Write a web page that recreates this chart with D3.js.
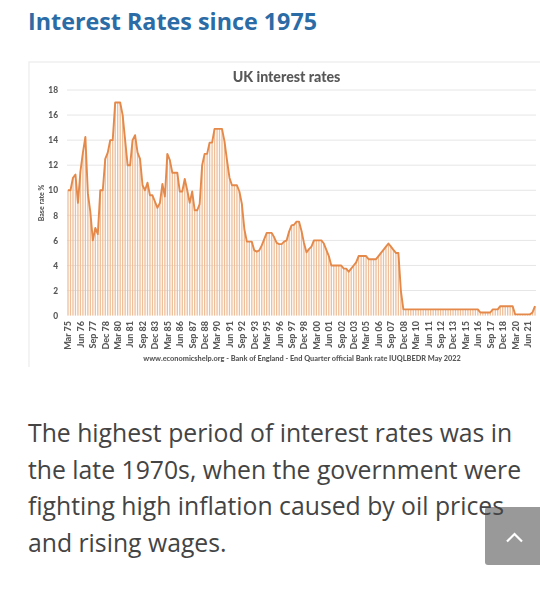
<!DOCTYPE html>
<html><head><meta charset="utf-8">
<script src="https://cdn.jsdelivr.net/npm/d3@7"></script>
<style>html,body{margin:0;padding:0;background:#fff}svg{display:block}</style>
</head><body><svg id="c" width="540" height="600"></svg>
<script>
const rates=[10,10,11,11.25,9,11.5,13,14.25,9.75,8.25,6,7,6.5,10,10,12.5,13,14,14,17,17,17,16,14,12,12,14,14.4,13,12.5,10.4,10,10.6,9.6,9.6,9.1,8.6,9,10.5,9.5,12.9,12.4,11.4,11.4,11.4,9.9,9.9,10.9,10,9,9.9,8.4,8.4,8.9,12,12.9,12.9,13.8,13.8,14.9,14.9,14.9,14.9,13.9,12.4,11,10.4,10.4,10.4,9.9,8.9,6.9,5.9,5.9,5.9,5.2,5.1,5.2,5.6,6.1,6.6,6.6,6.6,6.25,5.8,5.7,5.7,5.9,6,6.7,7.2,7.25,7.5,7.5,6.75,5.8,5.05,5.3,5.5,6,6,6,6,5.75,5.25,4.75,4,4,4,4,4,3.75,3.75,3.5,3.75,4,4.25,4.75,4.75,4.75,4.75,4.5,4.5,4.5,4.5,4.75,5,5.25,5.5,5.75,5.5,5.25,5,5,2,0.5,0.5,0.5,0.5,0.5,0.5,0.5,0.5,0.5,0.5,0.5,0.5,0.5,0.5,0.5,0.5,0.5,0.5,0.5,0.5,0.5,0.5,0.5,0.5,0.5,0.5,0.5,0.5,0.5,0.5,0.5,0.25,0.25,0.25,0.25,0.25,0.5,0.5,0.5,0.75,0.75,0.75,0.75,0.75,0.75,0.1,0.1,0.1,0.1,0.1,0.1,0.1,0.25,0.75];
const tickLabels=["Mar 75","Jun 76","Sep 77","Dec 78","Mar 80","Jun 81","Sep 82","Dec 83","Mar 85","Jun 86","Sep 87","Dec 88","Mar 90","Jun 91","Sep 92","Dec 93","Mar 95","Jun 96","Sep 97","Dec 98","Mar 00","Jun 01","Sep 02","Dec 03","Mar 05","Jun 06","Sep 07","Dec 08","Mar 10","Jun 11","Sep 12","Dec 13","Mar 15","Jun 16","Sep 17","Dec 18","Mar 20","Jun 21"];
const yTicks=[0,2,4,6,8,10,12,14,16,18];
const bodyLines=["The highest period of interest rates was in","the late 1970s, when the government were","fighting high inflation caused by oil prices","and rising wages."];
const heading="Interest Rates since 1975";
const chartTitle="UK interest rates";
const yLabel="Base rate %";
const source="www.economicshelp.org - Bank of England - End Quarter official Bank rate IUQLBEDR May 2022";

const svg=d3.select("#c");
const defs=svg.append("defs");
defs.append("filter").attr("id","soft").attr("x","-2%").attr("y","-2%").attr("width","104%").attr("height","104%")
  .append("feGaussianBlur").attr("stdDeviation",0.35);

svg.append("text").attr("x",28).attr("y",29.5).attr("font-family","Open Sans").attr("font-weight",700)
  .attr("font-size",23.3).attr("fill","#2b6ca6").text(heading);

const chart=svg.append("g").attr("filter","url(#soft)");
chart.append("path").attr("d","M540,62H29V367").attr("fill","none").attr("stroke","#efefef").attr("stroke-width",1.4);

const x=d3.scaleLinear().domain([0,rates.length-1]).range([68,535]);
const y=d3.scaleLinear().domain([0,18]).range([315.6,90]);
const bw=1.3;

chart.append("g").selectAll("line").data(yTicks.slice(1)).join("line")
  .attr("x1",67).attr("x2",536).attr("y1",d=>y(d)).attr("y2",d=>y(d))
  .attr("stroke","#e6e6e6").attr("stroke-width",1);

chart.append("g").selectAll("rect").data(rates).join("rect")
  .attr("x",(d,i)=>x(i)-bw/2).attr("width",bw)
  .attr("y",d=>y(d)).attr("height",d=>y(0)-y(d))
  .attr("fill","#eebf9a");

chart.append("path").datum(rates)
  .attr("d",d3.line().x((d,i)=>x(i)).y(d=>y(d)))
  .attr("fill","none").attr("stroke","#e4894a").attr("stroke-width",1.9).attr("stroke-linejoin","round");

const yAxis=d3.axisLeft(y).tickValues(yTicks).tickSize(0).tickPadding(0);
const gy=chart.append("g").attr("transform","translate(58,0)").call(yAxis);
gy.select(".domain").remove();
gy.selectAll("text").attr("font-family","Lato").attr("font-weight",900).attr("font-size",8.4).attr("fill","#595959");

const xAxis=d3.axisBottom(x).tickValues(tickLabels.map((d,i)=>i*5)).tickFormat(d=>tickLabels[d/5]).tickSize(0).tickPadding(0);
const gx=chart.append("g").attr("transform","translate(0,321)").call(xAxis);
gx.select(".domain").remove();
gx.selectAll("text").attr("font-family","Lato").attr("font-weight",900).attr("font-size",9).attr("fill","#595959")
  .attr("transform","rotate(-90)").attr("text-anchor","end").attr("dy","0.32em").attr("x",0).attr("y",0);

chart.append("text").attr("transform","translate(43.5,203) rotate(-90)").attr("text-anchor","middle")
  .attr("font-family","Lato").attr("font-weight",900).attr("font-size",7).attr("fill","#595959").text(yLabel);
chart.append("text").attr("x",286.5).attr("y",82).attr("text-anchor","middle")
  .attr("font-family","Lato").attr("font-weight",900).attr("font-size",14.2).attr("fill","#595959").text(chartTitle);
chart.append("text").attr("x",302).attr("y",360.5).attr("text-anchor","middle")
  .attr("font-family","Lato").attr("font-weight",900).attr("font-size",7.35).attr("fill","#595959").text(source);

svg.append("path").attr("d","M540,507H488a3,3 0 0 0 -3,3V562a3,3 0 0 0 3,3H540Z").attr("fill","#999");

svg.append("g").selectAll("text").data(bodyLines).join("text")
  .attr("x",28).attr("y",(d,i)=>442+i*36.7)
  .attr("font-family","Open Sans").attr("font-size",24.75).attr("fill","#444").text(d=>d);

svg.append("path").attr("d","M507,541.5L514.5,534L522,541.5").attr("fill","none").attr("stroke","#fff").attr("stroke-width",2.2);
</script></body></html>
